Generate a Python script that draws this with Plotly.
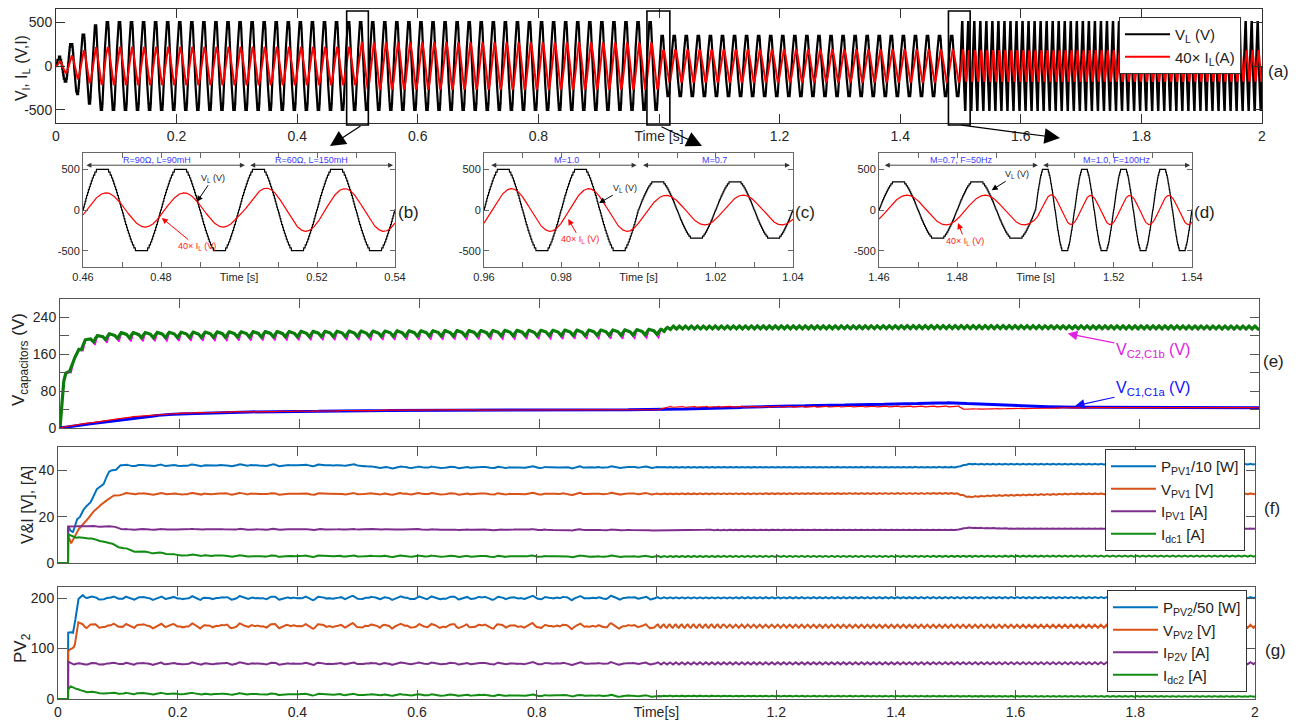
import numpy as np
import plotly.graph_objects as go

PAGE_OFF = 8          # default body margin of the html page
W, H = 1298 - PAGE_OFF, 727 - PAGE_OFF
FONT = "Liberation Sans, Arial, Helvetica, sans-serif"

# ---------------- (a)-(d): load voltage / current, segment values ----------------
seg_start = [0.0, 0.5, 1.0, 1.5]
seg_freq_hz = [50, 50, 50, 100]
seg_vl_peak = [500, 500, 345, 500]
seg_il40_peak = [210, 262, 183, 179]
seg_lag_deg = [17, 38, 38, 57]
seg_tau_s = [0.001, 0.0025, 0.0025, 0.0025]
startup_t = [0.0, 0.01, 0.025, 0.045, 0.065, 0.085]
startup_vl_peak = [60, 120, 260, 360, 470, 500]
startup_il40_peak = [40, 60, 110, 170, 205, 210]
vl_levels_per_half = 14
vl_clip_gain = 1.1

inset_windows = [(0.46, 0.54), (0.96, 1.04), (1.46, 1.54)]
zoom_boxes = [(0.482, 0.518), (0.980, 1.018), (1.480, 1.516)]

# ---------------- (e): capacitor voltages (breakpoints) ----------------
vc2_t = [0, 0.004, 0.008, 0.014, 0.022, 0.03, 0.04, 0.05, 0.07, 0.1, 0.3, 0.6, 0.95, 1.0, 1.02, 1.5, 2.0]
vc2_v = [0, 80, 115, 125, 140, 168, 185, 192, 198, 202, 204, 206, 208, 210, 218, 219, 218]
vc1_red_t = [0, 0.01, 0.03, 0.067, 0.12, 0.18, 0.29, 0.57, 1.0, 1.01, 1.5, 1.505, 1.7, 2.0]
vc1_red_v = [0, 4, 8, 14, 24, 31, 35, 39, 40, 45, 46, 41, 44, 44]
vc1_blue_t = [0, 0.01, 0.03, 0.067, 0.12, 0.18, 0.29, 0.57, 1.0, 1.2, 1.4, 1.49, 1.6, 1.7, 2.0]
vc1_blue_v = [0, 2, 6, 12, 22, 29.5, 34.5, 38.5, 40, 47, 52, 55, 47, 45, 44]

# ---------------- (f): PV1 quantities ----------------
ppv1_t = [0, 0.0169, 0.017, 0.02, 0.025, 0.031, 0.042, 0.065, 0.087, 0.105, 0.12, 0.5, 0.52, 0.54, 1.5, 1.52, 1.54, 2.0]
ppv1_v = [0, 0, 16, 14, 12.5, 19, 22, 31, 39, 42.5, 42, 42.2, 41.5, 41.2, 41.3, 42.6, 42.6, 42.6]
vpv1_t = [0, 0.0169, 0.017, 0.022, 0.03, 0.048, 0.07, 0.09, 0.11, 0.5, 1.0, 1.5, 1.52, 1.56, 1.7, 2.0]
vpv1_v = [0, 0, 12, 8.5, 13, 18.5, 25, 28.5, 29.8, 29.8, 29.8, 30, 28.5, 29, 29.8, 29.8]
ipv1_t = [0, 0.0169, 0.017, 0.09, 0.11, 0.5, 1.0, 1.5, 1.52, 1.6, 2.0]
ipv1_v = [0, 0, 15.8, 15.8, 14.5, 14.5, 14.2, 14.3, 15.2, 14.8, 14.8]
idc1_t = [0, 0.0169, 0.017, 0.03, 0.05, 0.08, 0.1, 0.13, 0.17, 0.2, 0.3, 1.0, 2.0]
idc1_v = [0, 0, 12.5, 11, 10.7, 9.2, 7, 5, 4.3, 3.5, 3, 2.8, 3]

# ---------------- (g): PV2 quantities ----------------
ppv2_t = [0, 0.0169, 0.017, 0.025, 0.028, 0.033, 0.04, 0.06, 2.0]
ppv2_v = [0, 0, 133, 133, 150, 195, 205, 200, 201]
vpv2_t = [0, 0.0169, 0.017, 0.025, 0.028, 0.034, 0.045, 2.0]
vpv2_v = [0, 0, 97, 103, 110, 150, 145, 144]
ip2v_t = [0, 0.0169, 0.017, 0.025, 0.04, 2.0]
ip2v_v = [0, 0, 75, 70, 70, 71]
idc2_t = [0, 0.0169, 0.017, 0.02, 0.03, 0.04, 0.06, 0.1, 0.6, 1.0, 2.0]
idc2_v = [0, 0, 20, 26, 20, 16, 13, 11, 8, 6, 5]

# ripple amplitudes: (before 1.0 s, after 1.0 s)
ripple_f = {"ppv1": (0.35, 0.2), "vpv1": (0.35, 0.25), "ipv1": (0.2, 0.15), "idc1": (0.3, 0.3),
            "ppv2": (3.0, 1.5), "vpv2": (4.0, 3.5), "ip2v": (2.0, 2.5), "idc2": (1.5, 1.0)}

# ======================= build waveforms =======================
t = np.arange(0, 40001) * 5e-5
idx = np.searchsorted(seg_start, t, side="right") - 1
f = np.array(seg_freq_hz, float)[idx]
theta = 2 * np.pi * f * t
A = np.array(seg_vl_peak, float)[idx]
A = np.where(t < startup_t[-1], np.interp(t, startup_t, startup_vl_peak), A)
step = np.array(seg_vl_peak, float)[idx] / vl_levels_per_half
vraw = A * np.clip(vl_clip_gain * np.sin(theta), -1, 1)
vl = np.round(vraw / step) * step

B = np.array(seg_il40_peak, float)[idx]
B = np.where(t < startup_t[-1], np.interp(t, startup_t, startup_il40_peak), B)
lag = np.deg2rad(np.array(seg_lag_deg, float))[idx]
il = B * np.sin(theta - lag)
for s in range(1, len(seg_start)):
    t0 = seg_start[s]
    prev = seg_il40_peak[s - 1] * np.sin(2 * np.pi * seg_freq_hz[s - 1] * t0 - np.deg2rad(seg_lag_deg[s - 1]))
    new = seg_il40_peak[s] * np.sin(2 * np.pi * seg_freq_hz[s] * t0 - np.deg2rad(seg_lag_deg[s]))
    m = idx == s
    il[m] += (prev - new) * np.exp(-(t[m] - t0) / seg_tau_s[s])

tg = np.arange(0, 10001) * 2e-4
on = (tg >= 0.017).astype(float)
before = tg < 1.0
w50 = 2 * np.pi * 50 * tg
w100 = 2 * np.pi * 100 * tg

# (e)
ramp = np.clip(tg / 0.02, 0, 1)
vc2 = np.interp(tg, vc2_t, vc2_v)
vc2 += ramp * np.where(before, 5 * np.sin(w50) + 2.5 * np.sin(2 * w50 + 1.0), 3.5 * np.sin(w100))
spk = np.maximum(0, np.sin(w50 + 2.0)) ** 8
vc2m = vc2 - ramp * np.where(before, 12 * spk, 2 * spk)
vc1r = np.interp(tg, vc1_red_t, vc1_red_v)
vc1r += np.where((tg > 1.0) & (tg < 1.5), 2.0 * spk, 0.4 * np.sin(w100))
vc1b = np.interp(tg, vc1_blue_t, vc1_blue_v)


def wig(name, tt_arr, vv_arr):
    a0, a1 = ripple_f[name]
    base = np.interp(tg, tt_arr, vv_arr)
    irr = (np.sin(2 * np.pi * 37 * tg) + 0.6 * np.sin(2 * np.pi * 53 * tg + 1.3) + 0.5 * np.sin(2 * np.pi * 23 * tg + 0.4)) / 1.6
    rip = np.where(before, a0 * irr + 0.3 * a0 * np.sin(w100), a1 * np.sin(w100 + 0.5))
    return base + on * rip


ppv1 = wig("ppv1", ppv1_t, ppv1_v)
ppv1 += np.where((tg > 0.02) & (tg < 0.1), 0.9 * np.sin(w50), 0)
vpv1 = wig("vpv1", vpv1_t, vpv1_v)
ipv1 = wig("ipv1", ipv1_t, ipv1_v)
idc1 = wig("idc1", idc1_t, idc1_v)
ppv2 = wig("ppv2", ppv2_t, ppv2_v)
vpv2 = wig("vpv2", vpv2_t, vpv2_v)
ip2v = wig("ip2v", ip2v_t, ip2v_v)
idc2 = wig("idc2", idc2_t, idc2_v)

# ======================= figure =======================
fig = go.Figure()

ta = t[::2]
fig.add_trace(go.Scatter(x=ta, y=vl[::2], mode="lines", line=dict(color="black", width=2.2),
                         name="V<sub>L</sub> (V)", legend="legend", xaxis="x", yaxis="y"))
fig.add_trace(go.Scatter(x=ta, y=il[::2], mode="lines", line=dict(color="#ff0000", width=2.0),
                         name="40\u00d7 I<sub>L</sub>(A)", legend="legend", xaxis="x", yaxis="y"))

for k, (w0, w1) in enumerate(inset_windows):
    m = (t >= w0 - 1e-9) & (t <= w1 + 1e-9)
    ax = str(k + 2)
    fig.add_trace(go.Scatter(x=t[m], y=vl[m], mode="lines", line=dict(color="black", width=1.2),
                             showlegend=False, xaxis="x" + ax, yaxis="y" + ax))
    fig.add_trace(go.Scatter(x=t[m], y=il[m], mode="lines", line=dict(color="#ff0000", width=1.2),
                             showlegend=False, xaxis="x" + ax, yaxis="y" + ax))

# (e)
fig.add_trace(go.Scatter(x=tg, y=vc2m, mode="lines", line=dict(color="#ff00ff", width=1.5), showlegend=False, xaxis="x5", yaxis="y5"))
fig.add_trace(go.Scatter(x=tg, y=vc2, mode="lines", line=dict(color="#0a7d0a", width=3.2), showlegend=False, xaxis="x5", yaxis="y5"))
fig.add_trace(go.Scatter(x=tg, y=vc1b, mode="lines", line=dict(color="#0000ff", width=3.0), showlegend=False, xaxis="x5", yaxis="y5"))
fig.add_trace(go.Scatter(x=tg, y=vc1r, mode="lines", line=dict(color="#ff0000", width=1.2), showlegend=False, xaxis="x5", yaxis="y5"))

C_BLUE, C_ORANGE, C_PURPLE, C_GREEN = "#0072BD", "#D95319", "#7E2F8E", "#138c13"
for y_, nm, c in [(ppv1, "P<sub>PV1</sub>/10 [W]", C_BLUE), (vpv1, "V<sub>PV1</sub> [V]", C_ORANGE),
                  (ipv1, "I<sub>PV1</sub> [A]", C_PURPLE), (idc1, "I<sub>dc1</sub> [A]", C_GREEN)]:
    fig.add_trace(go.Scatter(x=tg, y=y_, mode="lines", line=dict(color=c, width=2), name=nm,
                             legend="legend2", xaxis="x6", yaxis="y6"))
for y_, nm, c in [(ppv2, "P<sub>PV2</sub>/50 [W]", C_BLUE), (vpv2, "V<sub>PV2</sub> [V]", C_ORANGE),
                  (ip2v, "I<sub>P2V</sub> [A]", C_PURPLE), (idc2, "I<sub>dc2</sub> [A]", C_GREEN)]:
    fig.add_trace(go.Scatter(x=tg, y=y_, mode="lines", line=dict(color=c, width=2), name=nm,
                             legend="legend3", xaxis="x7", yaxis="y7"))


def px(x):
    return (x - PAGE_OFF) / W


def py(y):
    return 1 - (y - PAGE_OFF) / H


def xax(d, tv, tt, rng, fs=14, tl=9, lc="#555", show=True, anchor="y"):
    return dict(domain=d, range=rng, tickvals=tv, ticktext=tt, showticklabels=show, ticks="inside",
                ticklen=tl, tickcolor=lc, showline=True, linecolor=lc, linewidth=1, mirror="ticks",
                showgrid=False, zeroline=False, tickfont=dict(size=fs, color="#262626", family=FONT),
                anchor=anchor, fixedrange=True, automargin=False, tickangle=0)


def yax(d, tv, tt, rng, fs=14, tl=9, lc="#555", anchor="x"):
    return dict(domain=d, range=rng, tickvals=tv, ticktext=tt, ticks="inside", ticklen=tl, tickcolor=lc,
                showline=True, linecolor=lc, linewidth=1, mirror="ticks", showgrid=False, zeroline=False,
                tickfont=dict(size=fs, color="#262626", family=FONT), anchor=anchor, fixedrange=True,
                automargin=False)


big_tv = [round(0.2 * i, 1) for i in range(11)]
big_tt = ["0", "0.2", "0.4", "0.6", "0.8", "Time [s]", "1.2", "1.4", "1.6", "1.8", "2"]
big_tt_g = ["0", "0.2", "0.4", "0.6", "0.8", "Time[s]", "1.2", "1.4", "1.6", "1.8", "2"]

layout = dict(
    template="none",
    width=W, height=H, margin=dict(l=0, r=0, t=0, b=0, autoexpand=False), paper_bgcolor="white", plot_bgcolor="white",
    font=dict(family=FONT, color="#222"),
    xaxis=xax([px(56), px(1262)], big_tv, big_tt, [0, 2], lc="#333", anchor="y"),
    yaxis=yax([py(123), py(9)], [-500, 0, 500], ["-500", "0", "500"], [-650, 650], lc="#333", anchor="x"),
    xaxis5=xax([px(60), px(1259)], big_tv, big_tt, [0, 2], show=False, anchor="y5"),
    yaxis5=yax([py(428), py(299)], [0, 40, 80, 120, 160, 200, 240], ["0", "", "80", "", "160", "", "240"], [0, 280], anchor="x5"),
    xaxis6=xax([px(58), px(1255)], big_tv, big_tt, [0, 2], show=False, anchor="y6"),
    yaxis6=yax([py(563), py(447)], [0, 20, 40], ["0", "20", "40"], [0, 50], anchor="x6"),
    xaxis7=xax([px(58), px(1255)], big_tv, big_tt_g, [0, 2], anchor="y7"),
    yaxis7=yax([py(699), py(587)], [0, 100, 200], ["0", "100", "200"], [0, 222], anchor="x7"),
)
inset_px = [(83, 395), (484, 793), (879, 1192)]
for k, ((w0, w1), (x0p, x1p)) in enumerate(zip(inset_windows, inset_px)):
    a = str(k + 2)
    tv = [round(w0 + 0.01 * i, 2) for i in range(9)]
    tt = [f"{w0:.2f}", "", f"{w0 + 0.02:.2f}", "", "Time [s]", "", f"{w0 + 0.06:.2f}", "", f"{w1:.2f}"]
    layout["xaxis" + a] = xax([px(x0p), px(x1p)], tv, tt, [w0, w1], fs=11, tl=5, lc="#666", anchor="y" + a)
    layout["yaxis" + a] = yax([py(267), py(153)], [-500, 0, 500], ["-500", "0", "500"], [-700, 700], fs=11, tl=5, lc="#666", anchor="x" + a)

leg_common = dict(xanchor="left", yanchor="top", bgcolor="white", bordercolor="#333", borderwidth=1,
                  font=dict(size=15, family=FONT, color="#222"), itemwidth=45, tracegroupgap=0)
layout["legend"] = dict(x=px(1119), y=py(17), **leg_common)
layout["legend2"] = dict(x=px(1105), y=py(449), **leg_common)
layout["legend3"] = dict(x=px(1107), y=py(590), **leg_common)

shapes = []
for x0, x1 in zoom_boxes:
    shapes.append(dict(type="rect", xref="x", yref="paper", x0=x0, x1=x1, y0=py(125), y1=py(11),
                       line=dict(color="black", width=1.6)))
layout["shapes"] = shapes

CEN = dict(xanchor="center", yanchor="middle")
ann = []
# zoom arrows
for (tx, ty, axp, ayp) in [(330, 146, 32, -21), (702, 146, -42, -20), (1060, 138, -100, -13)]:
    ann.append(dict(x=px(tx), y=py(ty), xref="paper", yref="paper", ax=axp, ay=ayp, text="",
                    showarrow=True, arrowhead=2, arrowsize=2.6, arrowwidth=1.2, arrowcolor="black", **CEN))
# panel labels
for lab, (lx, ly) in zip(["(a)", "(b)", "(c)", "(d)", "(e)", "(f)", "(g)"],
                         [(1278, 72), (409, 213), (805, 213), (1204, 213), (1273, 362), (1272, 508), (1275, 650)]):
    ann.append(dict(x=px(lx), y=py(ly), xref="paper", yref="paper", text=lab, showarrow=False,
                    font=dict(size=17, family=FONT, color="#222"), **CEN))
# y titles
for txt, (lx, ly), fs in [("V<sub>l</sub>, I<sub>L</sub> (V,I)", (22, 68), 16),
                          ("V<sub>capacitors</sub> (V)", (20, 360), 17),
                          ("V&I [V], [A]", (27, 505), 16),
                          ("PV<sub>2</sub>", (22, 648), 17)]:
    ann.append(dict(x=px(lx), y=py(ly), xref="paper", yref="paper", text=txt, textangle=-90,
                    showarrow=False, font=dict(size=fs, family=FONT, color="#222"), **CEN))

# inset annotations
inset_spans = [
    [(0.4605, 0.5015, "R=90\u03a9, L=90mH", 0.4789), (0.5025, 0.5395, "R=60\u03a9, L=150mH", 0.5186)],
    [(0.9615, 0.9995, "M=1.0", 0.9814), (1.0008, 1.0392, "M=0.7", 1.0198)],
    [(1.4611, 1.5006, "M=0.7, F=50Hz", 1.4811), (1.5016, 1.5395, "M=1.0, F=100Hz", 1.5208)],
]
inset_ptrs = [
    ((0.4933, 390, 0.4892, 100), (0.4892, -451, 0.4802, -97)),
    ((0.9965, 268, 0.9898, 85), (0.9849, -366, 0.9818, -110)),
    ((1.4952, 439, 1.4888, 244), (1.482, -386, 1.4802, -160)),
]
for k in range(3):
    a = str(k + 2)
    for (s0, s1, txt, cx) in inset_spans[k]:
        ann.append(dict(x=s1, y=550, ax=s0, ay=550, xref="x" + a, yref="y" + a, axref="x" + a, ayref="y" + a,
                        text="", showarrow=True, arrowside="end+start", arrowhead=2, arrowsize=1.1,
                        arrowwidth=0.9, arrowcolor="#333", **CEN))
        ann.append(dict(x=cx, y=615, xref="x" + a, yref="y" + a, text=txt, showarrow=False,
                        font=dict(size=9, family=FONT, color="#3b3bff"), **CEN))
    (vx, vy, vtx, vty), (rx, ry, rtx, rty) = inset_ptrs[k]
    ann.append(dict(x=vtx, y=vty, ax=vx, ay=vy, xref="x" + a, yref="y" + a, axref="x" + a, ayref="y" + a,
                    text="V<sub>L</sub> (V)", showarrow=True, arrowhead=2, arrowsize=1.2, arrowwidth=1,
                    arrowcolor="black", font=dict(size=9, family=FONT, color="#222"), **CEN))
    ann.append(dict(x=rtx, y=rty, ax=rx, ay=ry, xref="x" + a, yref="y" + a, axref="x" + a, ayref="y" + a,
                    text="40\u00d7 I<sub>L</sub> (V)", showarrow=True, arrowhead=2, arrowsize=1.2, arrowwidth=1,
                    arrowcolor="#ff0000", font=dict(size=9, family=FONT, color="#ff2020"), **CEN))

# (e) annotations
ann.append(dict(x=1.681, y=205, xref="x5", yref="y5", ax=85, ay=17, text="V<sub>C2,C1b</sub> (V)",
                showarrow=True, arrowhead=2, arrowsize=1.6, arrowwidth=1.2, arrowcolor="#e020e0",
                font=dict(size=16, family=FONT, color="#e020e0"), **CEN))
ann.append(dict(x=1.693, y=48, xref="x5", yref="y5", ax=78, ay=-17, text="V<sub>C1,C1a</sub> (V)",
                showarrow=True, arrowhead=2, arrowsize=1.6, arrowwidth=1.2, arrowcolor="#1010ff",
                font=dict(size=16, family=FONT, color="#1010ff"), **CEN))
layout["annotations"] = ann

fig.update_layout(**layout)
fig.write_html("out.html")
